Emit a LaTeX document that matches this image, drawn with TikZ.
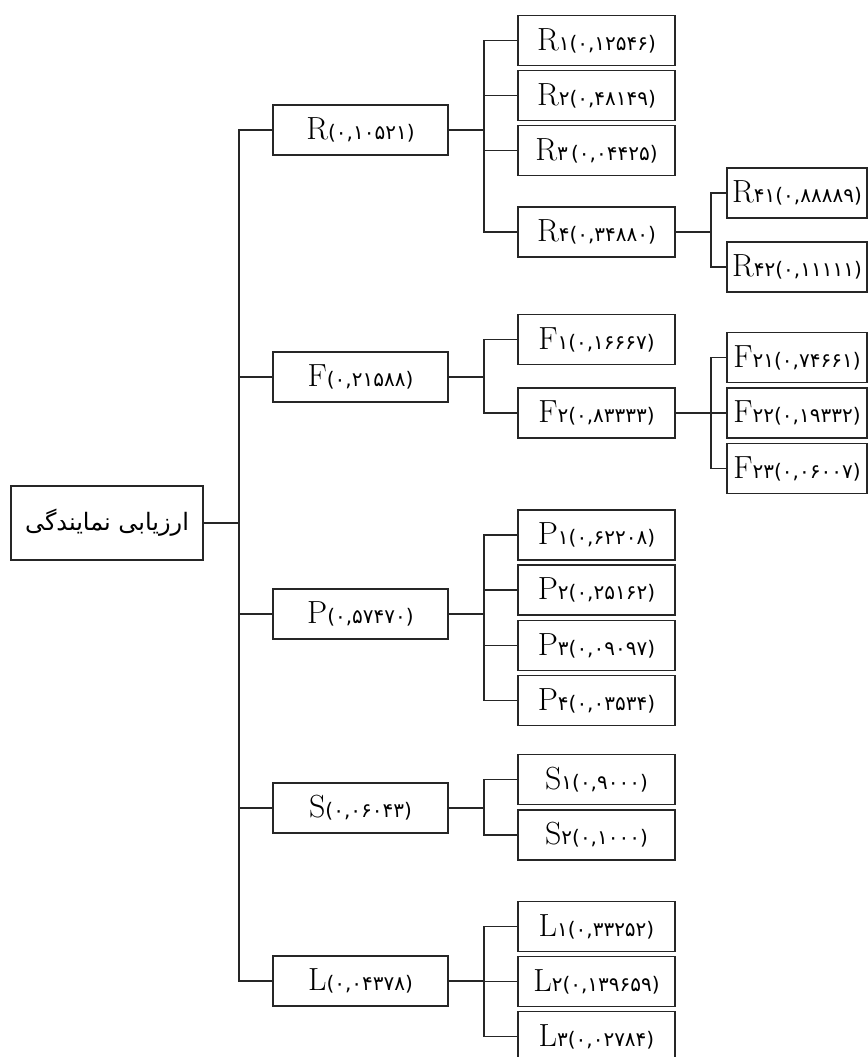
\documentclass[tikz,border=0pt]{standalone}
\usepackage{fontspec}
\TeXXeTstate=1
\newfontfamily\arabicfont[Script=Arabic]{DejaVu Sans}
\newfontfamily\digitfont{DejaVu Sans}
\newcommand{\wlabel}[2]{#1{\digitfont\fontsize{10}{12}\selectfont #2}}

\begin{document}
\begin{tikzpicture}[x=0.5pt,y=-0.5pt,
    box/.style={draw=black!85, line width=0.9pt, inner sep=0pt, minimum height=25pt, font=\fontsize{16}{18}\selectfont},
    crit/.style={box, minimum width=87.5pt},
    sub/.style={box, minimum width=78.5pt},
    subsub/.style={box, minimum width=70pt},
    link/.style={line width=0.9pt, black!85}]
    \useasboundingbox (0,0) rectangle (868,1057);
    \clip (0,0) rectangle (868,1057);

    % Root
    \node[box, minimum width=96pt, minimum height=37pt] (root) at (107,523)
        {\arabicfont\fontsize{12}{14}\selectfont\beginR ارزیابی نمایندگی\endR};

    % Criteria
    \node[crit] (R) at (360.5,130) {\wlabel{R}{(۰,۱۰۵۲۱)}};
    \node[crit] (F) at (360.5,377) {\wlabel{F}{(۰,۲۱۵۸۸)}};
    \node[crit] (P) at (360.5,614) {\wlabel{P}{(۰,۵۷۴۷۰)}};
    \node[crit] (S) at (360.5,808) {\wlabel{S}{(۰,۰۶۰۴۳)}};
    \node[crit] (L) at (360.5,981) {\wlabel{L}{(۰,۰۴۳۷۸)}};

    % Sub-criteria of R
    \node[sub] (R1) at (596.5,40.5) {\wlabel{R}{۱(۰,۱۲۵۴۶)}};
    \node[sub] (R2) at (596.5,95.5) {\wlabel{R}{۲(۰,۴۸۱۴۹)}};
    \node[sub] (R3) at (596.5,150.5) {\wlabel{R}{۳\,(۰,۰۴۴۲۵)}};
    \node[sub] (R4) at (596.5,232) {\wlabel{R}{۴(۰,۳۴۸۸۰)}};
    \node[subsub] (R41) at (797,193) {\wlabel{R}{۴۱(۰,۸۸۸۸۹)}};
    \node[subsub] (R42) at (797,267) {\wlabel{R}{۴۲(۰,۱۱۱۱۱)}};

    % Sub-criteria of F
    \node[sub] (F1) at (596.5,339.5) {\wlabel{F}{۱(۰,۱۶۶۶۷)}};
    \node[sub] (F2) at (596.5,413) {\wlabel{F}{۲(۰,۸۳۳۳۳)}};
    \node[subsub] (F21) at (797,357.5) {\wlabel{F}{۲۱(۰,۷۴۶۶۱)}};
    \node[subsub] (F22) at (797,413) {\wlabel{F}{۲۲(۰,۱۹۳۳۲)}};
    \node[subsub] (F23) at (797,468.5) {\wlabel{F}{۲۳(۰,۰۶۰۰۷)}};

    % Sub-criteria of P
    \node[sub] (P1) at (596.5,535) {\wlabel{P}{۱(۰,۶۲۲۰۸)}};
    \node[sub] (P2) at (596.5,590) {\wlabel{P}{۲(۰,۲۵۱۶۲)}};
    \node[sub] (P3) at (596.5,645.5) {\wlabel{P}{۳(۰,۰۹۰۹۷)}};
    \node[sub] (P4) at (596.5,700.5) {\wlabel{P}{۴(۰,۰۳۵۳۴)}};

    % Sub-criteria of S
    \node[sub] (S1) at (596.5,779.5) {\wlabel{S}{۱(۰,۹۰۰۰)}};
    \node[sub] (S2) at (596.5,835) {\wlabel{S}{۲(۰,۱۰۰۰)}};

    % Sub-criteria of L
    \node[sub] (L1) at (596.5,926.5) {\wlabel{L}{۱(۰,۳۳۲۵۲)}};
    \node[sub] (L2) at (596.5,981.5) {\wlabel{L}{۲(۰,۱۳۹۶۵۹)}};
    \node[sub] (L3) at (596.5,1036.5) {\wlabel{L}{۳(۰,۰۲۷۸۴)}};

    % Brackets
    \draw[link] (root.east) -- ++(35,0) coordinate (t0);
    \foreach \n in {R,F,P,S,L} \draw[link] (t0) |- (\n.west);

    \draw[link] (R.east) -- ++(35,0) coordinate (tR);
    \foreach \n in {R1,R2,R3,R4} \draw[link] (tR) |- (\n.west);
    \draw[link] (R4.east) -- ++(35,0) coordinate (tR4);
    \foreach \n in {R41,R42} \draw[link] (tR4) |- (\n.west);

    \draw[link] (F.east) -- ++(35,0) coordinate (tF);
    \foreach \n in {F1,F2} \draw[link] (tF) |- (\n.west);
    \draw[link] (F2.east) -- ++(35,0) coordinate (tF2);
    \foreach \n in {F21,F22,F23} \draw[link] (tF2) |- (\n.west);

    \draw[link] (P.east) -- ++(35,0) coordinate (tP);
    \foreach \n in {P1,P2,P3,P4} \draw[link] (tP) |- (\n.west);

    \draw[link] (S.east) -- ++(35,0) coordinate (tS);
    \foreach \n in {S1,S2} \draw[link] (tS) |- (\n.west);

    \draw[link] (L.east) -- ++(35,0) coordinate (tL);
    \foreach \n in {L1,L2,L3} \draw[link] (tL) |- (\n.west);
\end{tikzpicture}
\end{document}
